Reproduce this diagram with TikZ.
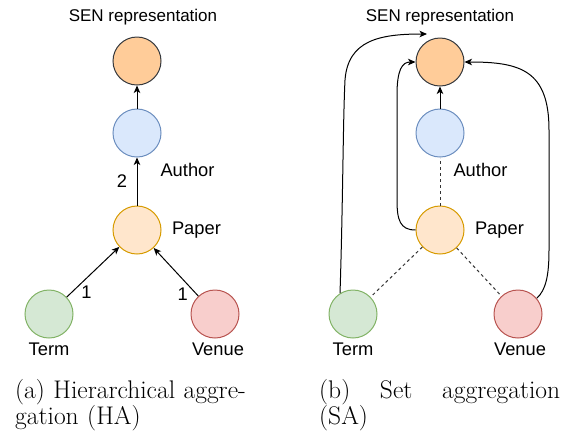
\documentclass[tikz,border=0pt]{standalone}
\usepackage{fontspec}
\newfontfamily\labelfont{Liberation Sans}
\usetikzlibrary{arrows.meta}
\usetikzlibrary{positioning}

\definecolor{senfill}{HTML}{FFCC99}
\definecolor{sendraw}{HTML}{36393D}
\definecolor{authfill}{HTML}{DAE8FC}
\definecolor{authdraw}{HTML}{6C8EBF}
\definecolor{papfill}{HTML}{FFE6CC}
\definecolor{papdraw}{HTML}{D79B00}
\definecolor{termfill}{HTML}{D5E8D4}
\definecolor{termdraw}{HTML}{82B366}
\definecolor{venfill}{HTML}{F8CECC}
\definecolor{vendraw}{HTML}{B85450}

\begin{document}
\begin{tikzpicture}
[x=1pt,y=-1pt,
ent/.style={circle,line width=1pt,inner sep=0pt,minimum size=48pt},
lbl/.style={font=\labelfont\fontsize{18.3}{20}\selectfont},
ttl/.style={font=\labelfont\fontsize{17}{19}\selectfont,anchor=base},
captxt/.style={font=\fontsize{25.5}{26}\selectfont,anchor=north west,inner sep=0pt,align=left},
arr/.style={-{Stealth[length=7.5pt,width=6.5pt,inset=2pt]},line width=1pt},
dsh/.style={dashed,line width=1pt,draw=black!80}]
\useasboundingbox (0,0) rectangle (578,432);

% (a) hierarchical
\node[ttl] (titleA) at (143,21) {SEN representation};
\node[ent,fill=senfill,draw=sendraw] (senA) at (137,61) {};
\node[ent,fill=authfill,draw=authdraw] (authA) at (137,133) {};
\node[lbl,anchor=base west] (authAtxt) at (157,176) {Author};
\node[ent,fill=papfill,draw=papdraw,label={[lbl,label distance=7pt]right:Paper}] (papA) at (137,230) {};
\node[ent,fill=termfill,draw=termdraw,label={[lbl,label distance=1pt]below:Term}] (termA) at (49,314) {};
\node[ent,fill=venfill,draw=vendraw,label={[lbl,label distance=1pt,xshift=3pt]below:Venue}] (venA) at (215,314) {};

\draw[arr] (authA) -- (senA);
\draw[arr] (papA) -- node[lbl,left=6pt] {2} (authA);
\draw[arr] (termA) -- node[lbl,pos=0.25,below right,inner sep=1pt] {1} (papA);
\draw[arr] (venA) -- node[lbl,pos=0.2,below left,inner sep=1pt] {1} (papA);

\node[captxt,text width=245pt] (capA) at (15,379) {(a) Hierarchical aggre-\\gation (HA)};

% (b) set
\node[ttl] (titleB) at (440,21) {SEN representation};
\node[ent,fill=senfill,draw=sendraw] (senB) at (440,62) {};
\node[ent,fill=authfill,draw=authdraw] (authB) at (440,133) {};
\node[lbl,anchor=base west] (authBtxt) at (450,176) {Author};
\node[ent,fill=papfill,draw=papdraw,label={[lbl,label distance=7pt]right:Paper}] (papB) at (440,230) {};
\node[ent,fill=termfill,draw=termdraw,label={[lbl,label distance=1pt]below:Term}] (termB) at (353,314) {};
\node[ent,fill=venfill,draw=vendraw,label={[lbl,label distance=1pt,xshift=2pt]below:Venue}] (venB) at (518,314) {};
\coordinate (topin) at (427,34);

\draw[arr] (authB) -- (senB);
\draw[dsh] (papB) -- (authB);
\draw[dsh] (papB) -- (termB);
\draw[dsh] (papB) -- (venB);

\draw[arr] (termB.122) .. controls (343,200) and (343,120) .. (345,80)
  .. controls (348,40) and (380,34) .. (topin);
\draw[arr] (papB.west) .. controls (400,230) and (397,220) .. (397,200) -- (397,95)
  .. controls (397,70) and (402,62) .. (senB.west);
\draw[arr] (venB.40) .. controls (546,290) and (549,275) .. (549,250) -- (549,130)
  .. controls (549,70) and (520,62) .. (senB.east);

\node[captxt,text width=241pt] (capB) at (319,379) {(b)\hfill Set\hfill aggregation\\(SA)};
\end{tikzpicture}
\end{document}
